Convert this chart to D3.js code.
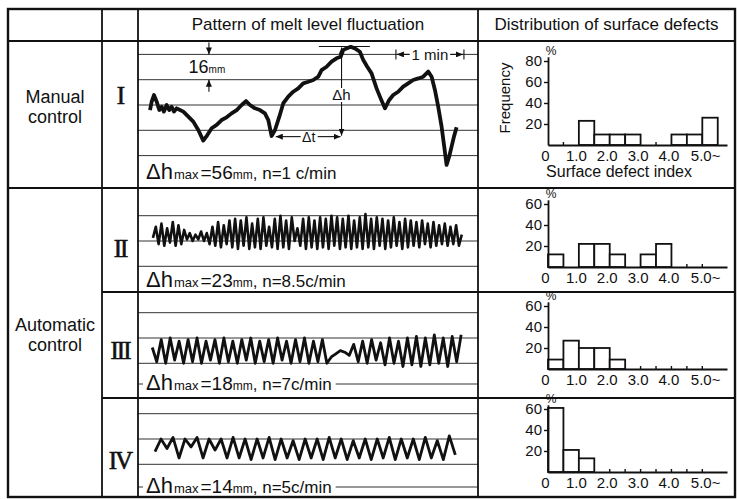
<!DOCTYPE html>

<head>
    <meta charset="utf-8">
    <title>Melt level fluctuation and surface defects</title>
    <script type="text/javascript" src="https://d3js.org/d3.v7.min.js"></script>
    <style>
        body { margin: 0; background: #fff; }
    </style>
</head>

<body>
    <div id="container"></div>
    <script>
        //------------------------1. DATA------------------------//
        var groupLabels = [["Manual", "control"], ["Automatic", "control"]];
        var romanLabels = ["I", "II", "III", "IV"];
        var dhMax = [56, 23, 18, 14];
        var cycleLabels = ["1 c/min", "8.5c/min", "7c/min", "5c/min"];

        // pattern I : time (s) / level (mm)
        var timeI = [0, 1.5, 3.5, 5.9, 8.2, 10.3, 12.3, 14.7, 17.0, 19.1,
            21.2, 23.5, 26.5, 29.4, 33.8, 38.2, 42.6, 47.0, 50.6, 54.4,
            58.8, 63.2, 67.6, 72.0, 76.5, 80.9, 84.7, 88.2, 92.6, 97.0,
            101.4, 104.4, 107.3, 110.3, 114.1, 117.6, 122.0, 126.4, 130.8, 135.2,
            139.7, 144.1, 148.5, 151.4, 155.8, 160.2, 164.6, 168.2, 170.5, 173.5,
            177.0, 180.8, 185.2, 188.2, 191.7, 195.5, 199.9, 203.5, 207.3, 211.1,
            214.6, 219.0, 223.4, 227.8, 232.2, 236.7, 241.1, 245.5, 248.5, 251.4,
            254.3, 257.3, 259.6, 261.7, 264.0, 266.1, 268.2, 270.5];
        var levelI = [-3.2, 2.1, 6.3, 2.1, -3.2, -1.1, -4.2, 0, -3.2, -1.1,
            -4.2, -2.1, -3.2, -4.2, -7.4, -10.5, -15.8, -22.5, -19, -14.7,
            -12.6, -9.5, -7.8, -5.3, -3.2, 0, 2.5, 0, -2.1, -3.2,
            -5.3, -9.5, -19.6, -15.8, -7.4, 1.1, 5.3, 8.4, 10.5, 13.7,
            14.7, 15.8, 17.9, 22.1, 24.2, 27.4, 29.5, 30.5, 34.8, 35.8,
            36.8, 35.8, 33.7, 28.4, 24.2, 20.0, 10.5, 4.2, -2.1, 3.2,
            6.3, 8.4, 11.6, 13.7, 15.8, 16.8, 17.9, 21.1, 17.9, 9.5,
            -1.1, -13.7, -26.3, -37.9, -32.6, -26.3, -20, -14.1];

        // patterns II-IV : level (mm) read every step seconds
        var startII = 2.6, stepII = 2.5;
        var levelII = [2, 9, -2, 11, -3, 8, -1, 12, -3, 10, -2, 7,
            1, 5, 0, 4, 1, 6, 0, 5,
            -2, 9, -3, 12, -4, 10, -2, 13, -4, 14,
            -5, 13, -3, 15, -5, 11, -4, 14, -5, 15, -3, 9,
            -4, 14, -5, 16, -4, 13, -5, 15, 0, 8, -3, 14, -5, 15, -4, 13,
            -5, 15, -4, 14, -5, 16, -3, 15, -5, 14, -4, 16,
            -5, 13, -4, 15, -5, 17, -4, 14, -5, 15, -3, 14,
            -5, 13, -4, 15, -3, 12, -5, 14, -4, 13, -3, 12, -4, 13,
            -2, 11, -4, 12, -3, 10, -2, 11, -3, 9, -2, 10, -3, 4];
        var startIII = 2.0, stepIII = 3.95;
        var levelIII = [-6, -15, -1, -16, 0, -14, -2, -16, -1, -15,
            0, -16, -2, -14, -1, -16, 0, -15, -2, -16,
            -1, -14, 0, -16, -2, -15, -1, -16, 0, -14,
            -2, -16, -1, -15, 0, -16, -2, -15, -1, -16,
            -12, -10, -8, -9, -11,
            -4, -15, -2, -16, -1, -14, -3, -17, 0, -16,
            -2, -18, 0, -17, 1, -18, 0, -17, 2, -16,
            0, -18, 1, -15, 2];
        var startIV = 4.4, stepIV = 5.3;
        var levelIV = [-8, 0, -6, 1, -12, 0, -5, 1, -12, 0,
            -7, 0, -12, 1, -12, 0, -13, 0, -12, 1,
            -13, 0, -12, -1, -13, 0, -12, 0, -13, 1,
            -12, 0, -13, -1, -12, 0, -13, 0, -12, 1,
            -13, 0, -12, 0, -13, 1, -12, -1, -13, 2, -10];

        var gridMmI = [32, 16, 0, -16, -32];
        var gridMmAuto = [16, 0, -16];

        // surface defect index bins (width 0.5) and frequency (%)
        var binStarts = [0, 0.5, 1.0, 1.5, 2.0, 2.5, 3.0, 3.5, 4.0, 4.5, 5.0];
        var freqI = [0, 0, 23, 10, 10, 10, 0, 0, 10, 10, 26];
        var freqII = [12, 0, 22, 22, 12, 0, 12, 22, 0, 0, 0];
        var freqIII = [9, 27, 20, 20, 9, 0, 0, 0, 0, 0, 0];
        var freqIV = [61, 21, 13, 0, 0, 0, 0, 0, 0, 0, 0];
        var xTickValues = [0, 1, 2, 3, 4, 5];
        var xTickLabels = ["0", "1.0", "2.0", "3.0", "4.0", "5.0~"];
        var yTicksI = [20, 40, 60, 80];
        var yTicksAuto = [20, 40, 60];

        //------------------------2. LAYOUT------------------------//
        var font = "'Liberation Sans', Arial, sans-serif",
            ink = "#111",
            frame = { left: 8, right: 735, top: 9, bottom: 497, head: 41 },
            colGroup = 102, colRoman = 138, colDist = 478;

        var rows = [
            { top: 41, bottom: 188, zero: 105, textY: 173, textLine: false, romanY: 95, base: 145, yTop: 84 },
            { top: 188, bottom: 292, zero: 241, textY: 281, textLine: false, romanY: 248, base: 267, yTop: 64 },
            { top: 292, bottom: 398, zero: 338, textY: 384, textLine: true, romanY: 350, base: 369, yTop: 64 },
            { top: 398, bottom: 497, zero: 439, textY: 487, textLine: true, romanY: 460, base: 472, yTop: 64 }
        ];

        var waves = [
            d3.zip(timeI, levelI),
            levelII.map(function (v, i) { return [startII + i * stepII, v]; }),
            levelIII.map(function (v, i) { return [startIII + i * stepIII, v]; }),
            levelIV.map(function (v, i) { return [startIV + i * stepIV, v]; })
        ];
        var waveWidths = [3.8, 2.6, 2.8, 2.8];
        var hists = [freqI, freqII, freqIII, freqIV];

        var svg = d3.select("div#container").append("svg")
            .attr("width", 737).attr("height", 499)
            .attr("font-family", font)
            .style("background", "#fff");

        svg.append("defs").append("marker")
            .attr("id", "arrow")
            .attr("viewBox", "0 0 7 6")
            .attr("refX", 7).attr("refY", 3)
            .attr("markerUnits", "userSpaceOnUse")
            .attr("markerWidth", 7).attr("markerHeight", 6)
            .attr("orient", "auto")
            .append("path").attr("d", "M0,0L7,3L0,6z").attr("fill", ink);

        // time scale common to all traces : 68 px per minute
        var xWave = d3.scaleLinear().domain([0, 60]).range([150, 218]);
        var pxPer16 = 25.3;

        //------------------------3. WAVEFORMS------------------------//
        rows.forEach(function (r, i) {
            var yWave = d3.scaleLinear().domain([0, 16]).range([r.zero, r.zero - pxPer16]);
            var grid = i === 0 ? gridMmI : gridMmAuto;
            var g = svg.append("g").attr("class", "wave-" + i);

            g.selectAll("line.grid")
                .data(grid)
                .enter().append("line")
                .attr("class", "grid")
                .attr("x1", colRoman).attr("x2", colDist)
                .attr("y1", function (d) { return yWave(d); })
                .attr("y2", function (d) { return yWave(d); })
                .attr("stroke", "#333").attr("stroke-width", 1);

            if (r.textLine) {
                g.append("line")
                    .attr("x1", colRoman).attr("x2", colDist)
                    .attr("y1", r.textY).attr("y2", r.textY)
                    .attr("stroke", "#333").attr("stroke-width", 1);
            }

            var wl = d3.line()
                .x(function (d) { return xWave(d[0]); })
                .y(function (d) { return yWave(d[1]); });

            g.append("path")
                .attr("d", wl(waves[i]))
                .attr("fill", "none")
                .attr("stroke", ink)
                .attr("stroke-width", waveWidths[i])
                .attr("stroke-linejoin", "round");

            // summary text
            var t = g.append("text")
                .attr("x", 146).attr("y", r.textY).attr("dy", "0.36em")
                .attr("fill", ink);
            t.append("tspan").attr("font-size", 22).text("\u0394h");
            t.append("tspan").attr("font-size", 13).attr("dx", 1).text("max");
            t.append("tspan").attr("font-size", 19).attr("dx", 2).text("=" + dhMax[i]);
            t.append("tspan").attr("font-size", 12).text("mm");
            t.append("tspan").attr("font-size", 17).text(", n=" + cycleLabels[i]);

            if (r.textLine) {
                var b = t.node().getBBox();
                g.insert("rect", "text")
                    .attr("x", b.x - 3).attr("y", r.textY - 4)
                    .attr("width", b.width + 7).attr("height", 8)
                    .attr("fill", "#fff");
            }

            if (i === 0) drawAnnotations(g, yWave);
        });

        //------------------------4. ANNOTATIONS (I)------------------------//
        function drawAnnotations(g, y) {
            var peakMm = 37, troughMm = -20, dhT = 169, dtT = 111,
                refT = [149, 194], dimT = 52, minT = [217, 277];

            function seg(x1, y1, x2, y2, arrow) {
                var l = g.append("line")
                    .attr("x1", x1).attr("y1", y1).attr("x2", x2).attr("y2", y2)
                    .attr("stroke", ink).attr("stroke-width", 1.1);
                if (arrow) l.attr("marker-end", "url(#arrow)");
            }

            // peak reference
            seg(xWave(refT[0]), y(peakMm), xWave(refT[1]), y(peakMm));

            // delta h
            var xh = xWave(dhT);
            seg(xh, 88, xh, y(peakMm) + 1, true);
            seg(xh, 102, xh, y(troughMm) - 1, true);
            g.append("text").attr("x", xh).attr("y", 95).attr("dy", "0.36em")
                .attr("text-anchor", "middle").attr("font-size", 15).attr("fill", ink).text("\u0394h");

            // delta t
            var xt = xWave(dtT), yt = y(troughMm);
            seg((xt + xh) / 2 - 8, yt, xt, yt, true);
            seg((xt + xh) / 2 + 9, yt, xh - 1, yt, true);
            g.append("text").attr("x", (xt + xh) / 2).attr("y", yt).attr("dy", "0.36em")
                .attr("text-anchor", "middle").attr("font-size", 14).attr("fill", ink).text("\u0394t");

            // 16 mm division
            var xd = xWave(dimT);
            seg(xd, y(32) - 12, xd, y(32), true);
            seg(xd, y(16) + 12, xd, y(16), true);
            var tm = g.append("text").attr("x", xd - 2).attr("y", (y(32) + y(16)) / 2).attr("dy", "0.36em")
                .attr("text-anchor", "middle").attr("fill", ink);
            tm.append("tspan").attr("font-size", 18).text("16");
            tm.append("tspan").attr("font-size", 10).text("mm");

            // 1 min
            var x0 = xWave(minT[0]), x1 = xWave(minT[1]), ym = y(32);
            var tmin = g.append("text").attr("x", (x0 + x1) / 2).attr("y", ym).attr("dy", "0.36em")
                .attr("text-anchor", "middle").attr("font-size", 15).attr("fill", ink).text("1 min");
            var bm = tmin.node().getBBox();
            g.insert("rect", "text")
                .attr("x", bm.x - 2).attr("y", ym - 3).attr("width", bm.width + 4).attr("height", 6)
                .attr("fill", "#fff");
            seg(x0, ym - 5, x0, ym + 5);
            seg(x1, ym - 5, x1, ym + 5);
            seg(bm.x - 2, ym, x0 + 1, ym, true);
            seg(bm.x + bm.width + 2, ym, x1 - 1, ym, true);
        }

        //------------------------5. HISTOGRAMS------------------------//
        var xH = d3.scaleLinear().domain([0, 5.8]).range([548, 727]);
        var pxPerPct = 1.05, binW = 0.5;

        hists.forEach(function (vals, i) {
            var r = rows[i];
            var yH = d3.scaleLinear().domain([0, r.yTop]).range([r.base, r.base - r.yTop * pxPerPct]);
            var g = svg.append("g").attr("class", "hist-" + i);

            var bins = binStarts.map(function (b, k) { return { x: b, v: vals[k] }; });

            g.selectAll("rect.bar")
                .data(bins.filter(function (d) { return d.v > 0; }))
                .enter().append("rect")
                .attr("class", "bar")
                .attr("x", function (d) { return xH(d.x); })
                .attr("width", function (d) { return xH(d.x + binW) - xH(d.x); })
                .attr("y", function (d) { return yH(d.v); })
                .attr("height", function (d) { return r.base - yH(d.v); })
                .attr("fill", "#fff")
                .attr("stroke", ink).attr("stroke-width", 1.8);

            // small marks on empty bin edges
            var edges = binStarts.slice(1).filter(function (e, k) {
                return vals[k] === 0 && vals[k + 1] === 0;
            });
            g.selectAll("line.mark")
                .data(edges)
                .enter().append("line")
                .attr("x1", function (d) { return xH(d); })
                .attr("x2", function (d) { return xH(d); })
                .attr("y1", r.base).attr("y2", r.base - 3)
                .attr("stroke", ink).attr("stroke-width", 1.4);

            var xAxis = d3.axisBottom(xH)
                .tickValues(xTickValues)
                .tickSize(0).tickSizeOuter(0).tickPadding(5)
                .tickFormat(function (d, k) { return xTickLabels[k]; });
            var gx = g.append("g")
                .attr("transform", "translate(0," + r.base + ")")
                .call(xAxis)
                .attr("font-family", font).attr("font-size", 15);
            gx.select(".domain").attr("stroke", ink).attr("stroke-width", 1.8);
            gx.selectAll("text").attr("fill", ink).attr("dx", "-3");
            gx.selectAll(".tick").filter(function (d) { return d === 5; })
                .select("text").attr("text-anchor", "start").attr("dx", "-12");

            var yAxis = d3.axisLeft(yH)
                .tickValues(i === 0 ? yTicksI : yTicksAuto)
                .tickSize(4).tickSizeOuter(0).tickPadding(2);
            var gy = g.append("g")
                .attr("transform", "translate(" + xH(0) + ",0)")
                .call(yAxis)
                .attr("font-family", font).attr("font-size", 15);
            gy.select(".domain").attr("stroke", ink).attr("stroke-width", 1.8);
            gy.selectAll("line").attr("stroke", ink).attr("stroke-width", 1.4);
            gy.selectAll("text").attr("fill", ink);

            g.append("text")
                .attr("x", xH(0) + 3).attr("y", yH(r.yTop) - 2)
                .attr("text-anchor", "middle").attr("font-size", 12).attr("fill", ink)
                .text("%");

            if (i === 0) {
                g.append("text")
                    .attr("transform", "translate(505," + 98 + ") rotate(-90)")
                    .attr("dy", "0.36em")
                    .attr("text-anchor", "middle").attr("font-size", 15).attr("fill", ink)
                    .text("Frequency");
                g.append("text")
                    .attr("x", 619).attr("y", r.base + 32)
                    .attr("text-anchor", "middle").attr("font-size", 16).attr("fill", ink)
                    .text("Surface defect index");
            }
        });

        //------------------------6. TABLE------------------------//
        var tbl = svg.append("g").attr("class", "table");

        tbl.append("rect")
            .attr("x", frame.left).attr("y", frame.top)
            .attr("width", frame.right - frame.left).attr("height", frame.bottom - frame.top)
            .attr("fill", "none").attr("stroke", ink).attr("stroke-width", 2.4);

        [colGroup, colRoman, colDist].forEach(function (x) {
            tbl.append("line")
                .attr("x1", x).attr("x2", x).attr("y1", frame.top).attr("y2", frame.bottom)
                .attr("stroke", ink).attr("stroke-width", 1.8);
        });

        tbl.append("line")
            .attr("x1", frame.left).attr("x2", frame.right).attr("y1", frame.head).attr("y2", frame.head)
            .attr("stroke", ink).attr("stroke-width", 1.8);
        rows.slice(0, 3).forEach(function (r, i) {
            tbl.append("line")
                .attr("x1", i === 0 ? frame.left : colGroup).attr("x2", frame.right)
                .attr("y1", r.bottom).attr("y2", r.bottom)
                .attr("stroke", ink).attr("stroke-width", 1.8);
        });

        tbl.append("text")
            .attr("x", (colRoman + colDist) / 2).attr("y", 24).attr("dy", "0.36em")
            .attr("text-anchor", "middle").attr("font-size", 17).attr("fill", ink)
            .text("Pattern of melt level fluctuation");
        tbl.append("text")
            .attr("x", (colDist + frame.right) / 2).attr("y", 24).attr("dy", "0.36em")
            .attr("text-anchor", "middle").attr("font-size", 17).attr("fill", ink)
            .text("Distribution of surface defects");

        var groupY = [[97, 117], [325, 345]];
        groupLabels.forEach(function (lines, k) {
            lines.forEach(function (s, j) {
                tbl.append("text")
                    .attr("x", (frame.left + colGroup) / 2).attr("y", groupY[k][j]).attr("dy", "0.36em")
                    .attr("text-anchor", "middle").attr("font-size", 18).attr("fill", ink)
                    .text(s);
            });
        });

        rows.forEach(function (r, i) {
            tbl.append("text")
                .attr("x", (colGroup + colRoman) / 2).attr("y", r.romanY).attr("dy", "0.35em")
                .attr("text-anchor", "middle")
                .attr("font-family", "'Liberation Serif', 'DejaVu Serif', serif")
                .attr("font-size", 25).attr("letter-spacing", -2).attr("fill", ink)
                .attr("stroke", ink).attr("stroke-width", 0.6)
                .text(romanLabels[i]);
        });
    </script>
</body>
